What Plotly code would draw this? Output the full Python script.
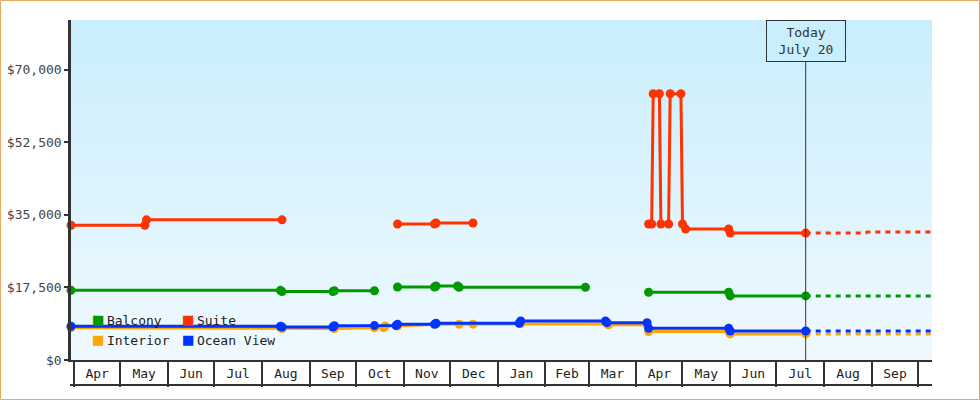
import base64
import plotly.graph_objects as go

# ---------------- data ----------------
interior_dates = ["2022-03-30", "2022-08-13", "2022-08-14", "2022-09-17", "2022-10-13", "2022-10-19",
                  "2022-10-20", "2022-10-28", "2022-11-22", "2022-12-07", "2022-12-16", "2023-01-16",
                  "2023-03-13", "2023-03-14", "2023-04-08", "2023-04-09", "2023-05-31", "2023-06-01",
                  "2023-07-20"]
interior_prices = [7750, 7750, 7600, 7600, 7800, 7800,
                   8200, 8200, 8650, 8650, 8650, 8750,
                   8750, 8500, 8500, 6850, 6850, 6300,
                   6300]

ocean_dates = ["2022-03-30", "2022-08-13", "2022-08-14", "2022-09-16", "2022-09-17", "2022-10-13",
               "2022-10-27", "2022-10-28", "2022-11-21", "2022-11-22", "2023-01-15", "2023-01-16",
               "2023-03-12", "2023-03-13", "2023-04-08", "2023-04-09", "2023-05-31", "2023-06-01",
               "2023-07-20"]
ocean_prices = [8150, 8150, 7950, 7950, 8250, 8300,
                8300, 8600, 8600, 8850, 8850, 9400,
                9400, 9000, 9000, 7650, 7650, 7000,
                7000]

balcony_dates = ["2022-03-30", "2022-08-13", "2022-08-14", "2022-09-16", "2022-09-17", "2022-10-13", None,
                 "2022-10-28", "2022-11-21", "2022-11-22", "2022-12-06", "2022-12-07", "2023-02-27", None,
                 "2023-04-09", "2023-05-31", "2023-06-01", "2023-07-20"]
balcony_prices = [16800, 16800, 16500, 16500, 16700, 16700, None,
                  17600, 17600, 17850, 17850, 17550, 17550, None,
                  16350, 16350, 15450, 15450]

suite_dates = ["2022-03-30", "2022-05-17", "2022-05-18", "2022-08-14", None,
               "2022-10-28", "2022-11-21", "2022-11-22", "2022-12-16", None,
               "2023-04-09", "2023-04-11", "2023-04-12", "2023-04-16", "2023-04-17", "2023-04-22",
               "2023-04-23", "2023-04-30", "2023-05-01", "2023-05-03", "2023-05-31", "2023-06-01",
               "2023-07-20"]
suite_prices = [32500, 32500, 33800, 33800, None,
                32800, 32800, 33050, 33050, None,
                32800, 32800, 64200, 64200, 32800, 32800,
                64200, 64200, 32800, 31600, 31600, 30600,
                30600]

# projections after today
interior_proj_dates = ["2023-07-20", "2023-10-10"]
interior_proj_prices = [6300, 6300]
ocean_proj_dates = ["2023-07-20", "2023-10-10"]
ocean_proj_prices = [7000, 7000]
balcony_proj_dates = ["2023-07-20", "2023-10-10"]
balcony_proj_prices = [15450, 15450]
suite_proj_dates = ["2023-07-20", "2023-08-28", "2023-08-29", "2023-10-10"]
suite_proj_prices = [30600, 30600, 30850, 30850]

series_names = ["Interior", "Ocean View", "Balcony", "Suite"]
legend_names = ["Balcony", "Interior", "Suite", "Ocean View"]
ytick_vals = [0, 17500, 35000, 52500, 70000]
ytick_text = ["$0", "$17,500", "$35,000", "$52,500", "$70,000"]
x_range = ["2022-03-30", "2023-10-10"]
y_range = [0, 82000]
today_date = "2023-07-20"
today_label = "Today<br>July 20"
first_month = "2022-04-01"

# ---------------- style ----------------
colors = {"Interior": "#ffa500", "Ocean View": "#0033ff", "Balcony": "#009900", "Suite": "#ff3300"}
FONT = "DejaVu Sans Mono"
W, H = 980, 400
ML, MR, MT, MB = 71, 48, 20, 40
PW, PH = W - ML - MR, H - MT - MB
BG_TOP, BG_BOT = "#c9eefc", "#f0f9ff"
AXIS = "#333333"


def px_x(p):
    return (p - ML) / PW


def px_y(p):
    return (H - MB - p) / PH


series = {
    "Interior": (interior_dates, interior_prices, interior_proj_dates, interior_proj_prices),
    "Ocean View": (ocean_dates, ocean_prices, ocean_proj_dates, ocean_proj_prices),
    "Balcony": (balcony_dates, balcony_prices, balcony_proj_dates, balcony_proj_prices),
    "Suite": (suite_dates, suite_prices, suite_proj_dates, suite_proj_prices),
}

fig = go.Figure()
for name in series_names:
    d, p, pd_, pp = series[name]
    c = colors[name]
    fig.add_trace(go.Scatter(x=pd_, y=pp, mode="lines", showlegend=False, hoverinfo="skip",
                             line=dict(color=c, width=3, dash="5px,5px"), cliponaxis=False))
for name in series_names:
    d, p, pd_, pp = series[name]
    c = colors[name]
    fig.add_trace(go.Scatter(x=d, y=p, mode="lines+markers", name=name, showlegend=False,
                             line=dict(color=c, width=3), marker=dict(color=c, size=9),
                             connectgaps=False, cliponaxis=False))

# legend entries (swatch squares as text); two columns = two legends
legend_of = {"Balcony": "legend", "Interior": "legend", "Suite": "legend2", "Ocean View": "legend2"}
for name in legend_names:
    c = colors[name]
    fig.add_trace(go.Scatter(
        x=[None], y=[None], mode="markers",
        marker=dict(color="rgba(0,0,0,0)", opacity=0, size=1),
        name=(f"<span style='color:{c};font-size:17px'>■</span>"
              f"<span style='font-size:6px'> </span>{name}"),
        legend=legend_of[name], legendgroup=name, showlegend=True))

svg = (f'<svg xmlns="http://www.w3.org/2000/svg" width="100" height="100" viewBox="0 0 100 100" '
       f'preserveAspectRatio="none"><defs><linearGradient id="g" x1="0" y1="0" x2="0" y2="1">'
       f'<stop offset="0" stop-color="{BG_TOP}"/><stop offset="1" stop-color="{BG_BOT}"/>'
       f'</linearGradient></defs><rect width="100" height="100" fill="url(#g)"/></svg>')
bg_uri = "data:image/svg+xml;base64," + base64.b64encode(svg.encode()).decode()

legend_common = dict(orientation="v", xanchor="left", yanchor="middle",
                     bgcolor="rgba(0,0,0,0)", borderwidth=0,
                     font=dict(family=FONT, size=13, color="#222"), itemclick=False,
                     itemdoubleclick=False, tracegroupgap=0)

fig.update_layout(
    width=W, height=H, margin=dict(l=ML, r=MR, t=MT, b=MB, pad=0, autoexpand=False),
    paper_bgcolor="white", plot_bgcolor="rgba(0,0,0,0)",
    font=dict(family=FONT, size=13, color="#333"),
    hovermode="closest",
    legend=dict(x=px_x(53), y=px_y(330), **legend_common),
    legend2=dict(x=px_x(143), y=px_y(330), **legend_common),
    images=[dict(source=bg_uri, xref="paper", yref="paper", x=0, y=1, sizex=1, sizey=1,
                 xanchor="left", yanchor="top", sizing="stretch", layer="below")],
    xaxis=dict(type="date", range=x_range, showgrid=False, zeroline=False, automargin=False,
               showline=True, linecolor=AXIS, linewidth=2,
               ticks="outside", ticklen=25, tickwidth=1.5, tickcolor=AXIS,
               tick0=first_month, dtick="M1", tickformat="%b", ticklabelmode="period",
               ticklabelstandoff=-25, tickfont=dict(family=FONT, size=13, color="#222"),
               fixedrange=True),
    yaxis=dict(range=y_range, showgrid=False, zeroline=False, showline=True, linecolor=AXIS,
               automargin=False, linewidth=2.5, ticks="outside", ticklen=4, tickwidth=2,
               tickcolor=AXIS, tickvals=ytick_vals, ticktext=ytick_text,
               tickfont=dict(family=FONT, size=13, color="#444"), fixedrange=True),
    shapes=[
        # bottom edge of month boxes
        dict(type="line", xref="paper", yref="paper", x0=px_x(70), x1=1, y0=px_y(385), y1=px_y(385),
             line=dict(color=AXIS, width=2)),
        # today line
        dict(type="line", xref="x", yref="paper", x0=today_date, x1=today_date, y0=0, y1=1,
             line=dict(color=AXIS, width=1), layer="above"),
        # outer frame
        dict(type="rect", xref="paper", yref="paper", x0=px_x(0.5), x1=px_x(W - 0.5),
             y0=px_y(H - 0.5), y1=px_y(0.5), line=dict(color="#e8a862", width=1)),
    ],
    annotations=[dict(x=today_date, y=1, xref="x", yref="paper", xanchor="center", yanchor="top",
                      text=today_label, showarrow=False, align="center",
                      font=dict(family=FONT, size=13, color="#333"),
                      bgcolor=BG_TOP, bordercolor=AXIS, borderwidth=1, borderpad=3,
                      width=72, height=34)],
)

fig.write_html("out.html")
